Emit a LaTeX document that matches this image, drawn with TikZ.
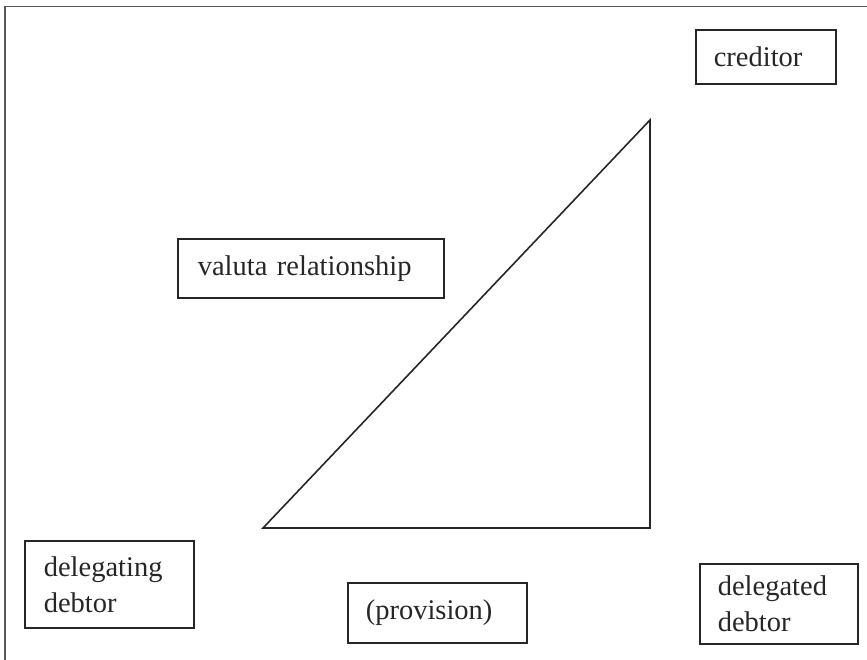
\documentclass[tikz,border=0pt]{standalone}
\usepackage{fontspec}
\setmainfont{Liberation Serif}
\begin{document}
\begin{tikzpicture}[x=1pt,y=-1pt,
  party/.style={draw=black!85, line width=1.6pt, anchor=north west,
    inner xsep=18pt, inner ysep=0pt, align=left, text=black!85,
    font=\fontsize{28.5}{36}\selectfont},
]
\useasboundingbox (0,0) rectangle (867,660);
% open frame along the top and left
\draw[black!65, line width=1.8pt] (867,6.5) -- (5,6.5) -- (5,660);

\node[party, minimum width=140pt, minimum height=54pt, text width=104pt]
  (creditor) at (695,29) {creditor};
\node[party, inner xsep=20pt, minimum width=266pt, minimum height=59pt, text width=226pt]
  (valuta) at (177,238) {valuta relationship};
\node[party, inner xsep=19pt, minimum width=169pt, minimum height=87pt, text width=131pt]
  (delegating) at (24,540) {delegating\\debtor};
\node[party, minimum width=179pt, minimum height=60pt, text width=143pt]
  (provision) at (347,582) {(provision)};
\node[party, minimum width=158pt, minimum height=80pt, text width=122pt]
  (delegated) at (699,563) {delegated\\debtor};

% triangle of the three relationships
\coordinate (tl) at (263,528);
\coordinate (tt) at (650,120);
\coordinate (tr) at (650,528);
\draw[black!85, line width=1.6pt, line join=miter] (tl) -- (tt) -- (tr) -- cycle;
\end{tikzpicture}
\end{document}
